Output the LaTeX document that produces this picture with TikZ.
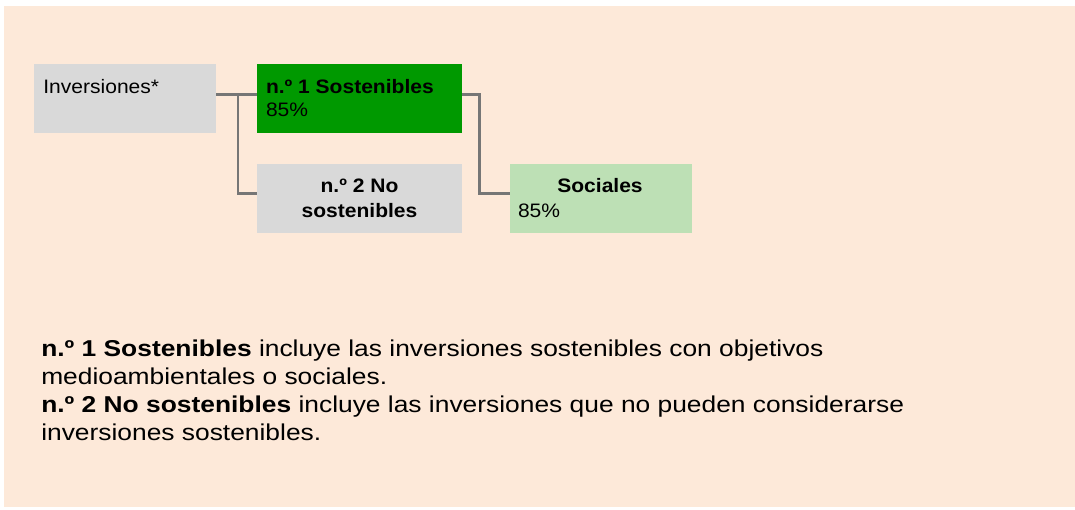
\documentclass[tikz,border=0pt]{standalone}
\usepackage{fontspec}
\usetikzlibrary{calc}
\newfontfamily\topf{Liberation Sans}[FakeStretch=1.08]
\newfontfamily\botf{Liberation Sans}[FakeStretch=1.15]
\definecolor{peach}{RGB}{253,233,217}
\definecolor{boxgrey}{RGB}{217,217,217}
\definecolor{darkgreen}{RGB}{0,153,0}
\definecolor{lightgreen}{RGB}{189,224,181}
\definecolor{linegrey}{RGB}{118,118,118}
\begin{document}
\begin{tikzpicture}[x=0.75pt,y=-0.75pt,
  box/.style={rectangle,inner sep=0pt,draw=none,minimum height=51.75pt},
  lbl/.style={inner sep=0pt,font=\topf\fontsize{14.6}{17}\selectfont},
  conn/.style={draw=linegrey,line width=2pt,line join=miter}]
\useasboundingbox (0,0) rectangle (1075,510);
\fill[peach] (4,6) rectangle (1075,507);
% boxes
\node[box,fill=boxgrey,minimum width=136.2pt] (inv) at (125.2,98.5) {};
\node[box,fill=darkgreen,minimum width=153.75pt] (sost) at (359.5,98.5) {};
\node[box,fill=boxgrey,minimum width=153.75pt] (nosost) at (359.5,198.5) {};
\node[box,fill=lightgreen,minimum width=136.5pt] (soc) at (601,198.5) {};
% texts (base anchor = baseline of last line)
\node[lbl,anchor=base west] (invt) at ($(inv.north west)+(9,30)$) {Inversiones*};
\node[lbl,anchor=base west,align=left] (sostt) at ($(sost.north west)+(9,52.7)$) {\textbf{n.º 1 Sostenibles}\\85\%};
\node[lbl,anchor=base,align=center,font=\topf\bfseries\fontsize{14.6}{18.75}\selectfont] (nosostt) at ($(nosost.north)+(0,54)$) {n.º 2 No\\sostenibles};
\node[lbl,anchor=base,font=\topf\bfseries\fontsize{14.6}{17}\selectfont] (soct) at ($(soc.north)+(-1,29)$) {Sociales};
\node[lbl,anchor=base west] (socp) at ($(soc.north west)+(8,54)$) {85\%};
% connectors
\coordinate (br) at ($(inv.north east)+(21.6,30.5)$);
\draw[conn] ($(inv.north east)+(0,30.5)$) -- ($(sost.north west)+(0,30.5)$);
\draw[conn] (br) |- ($(nosost.north west)+(0,30)$);
\draw[conn] ($(sost.north east)+(0,30.5)$) -- ++(17.5,0) |- ($(soc.north west)+(0,30)$);
% legend
\node[inner sep=0pt,anchor=base west,align=left,font=\botf\fontsize{17.2}{20.9}\selectfont] (legend) at (41,440)
{\textbf{n.º 1 Sostenibles} incluye las inversiones sostenibles con objetivos\\
medioambientales o sociales.\\
\textbf{n.º 2 No sostenibles} incluye las inversiones que no pueden considerarse\\
inversiones sostenibles.};
\end{tikzpicture}
\end{document}
